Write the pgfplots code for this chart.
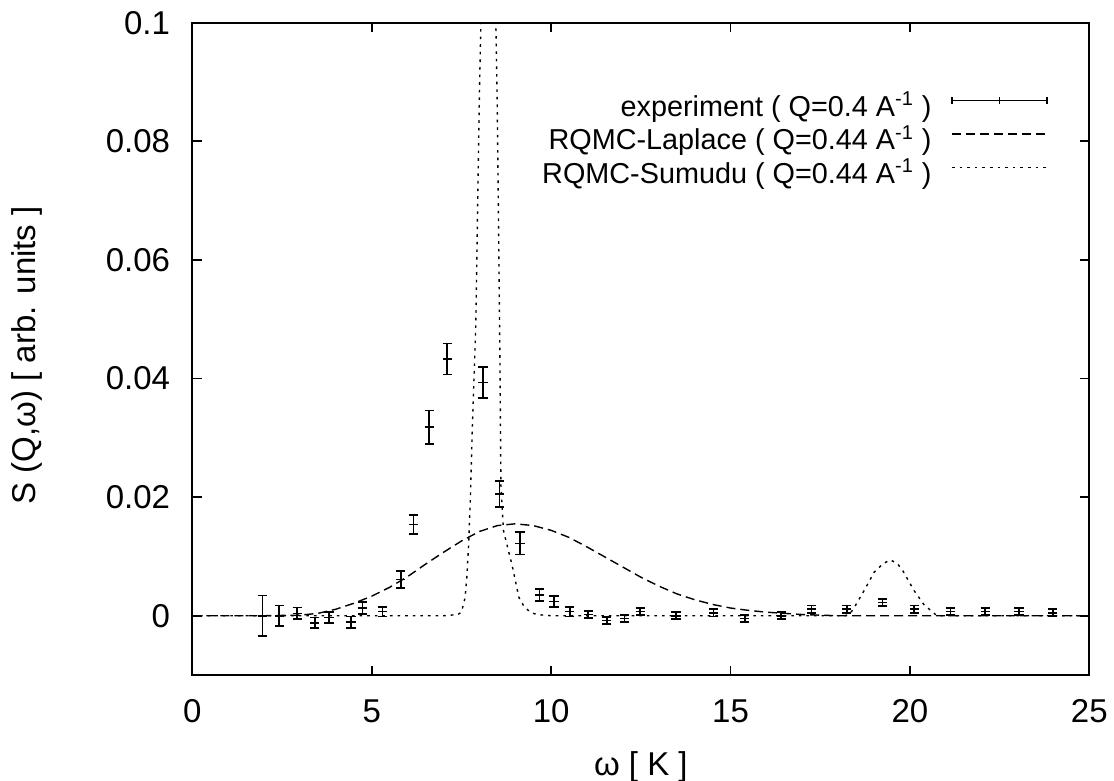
\documentclass[border=0pt]{standalone}
\usepackage{fontspec}
\setmainfont{Liberation Sans}
\usepackage{pgfplots}
\pgfplotsset{compat=1.18}

% experiment, Q = 0.4 A^-1
\pgfplotstableread{
x      y        e
1.95   0.0000   0.0034
2.42   0.0000   0.0017
2.92   0.0004   0.0010
3.41  -0.0012   0.0009
3.81  -0.0003   0.0009
4.42  -0.0011   0.0010
4.74   0.0013   0.0010
5.30   0.0007   0.0008
5.81   0.0061   0.0014
6.16   0.0154   0.0016
6.60   0.0318   0.0028
7.10   0.0433   0.0026
8.10   0.0393   0.0026
8.56   0.0205   0.0022
9.13   0.0122   0.0019
9.67   0.0035   0.0010
10.08  0.0024   0.0009
10.52  0.0007   0.0008
11.03  0.0002   0.0006
11.55 -0.0008   0.0006
12.05 -0.0005   0.0006
12.48  0.0007   0.0006
13.48  0.0000   0.0006
14.53  0.0005   0.0006
15.40 -0.0005   0.0006
16.41  0.0000   0.0006
17.26  0.0011   0.0006
18.24  0.0011   0.0006
19.24  0.0022   0.0006
20.12  0.0011   0.0006
21.13  0.0007   0.0006
22.10  0.0007   0.0006
23.04  0.0007   0.0006
23.98  0.0005   0.0006
}\expdata

\pgfplotstableread{
x     y
0     0
2     0
3     0.0001
3.5   0.0004
4     0.0011
4.5   0.0021
5     0.0033
5.5   0.0048
6     0.0066
6.5   0.0087
7     0.0107
7.5   0.0126
8     0.0142
8.5   0.0152
9     0.0155
9.5   0.0152
10    0.0144
10.5  0.0132
11    0.0116
11.5  0.0099
12    0.0082
12.5  0.0065
13    0.0050
13.5  0.0037
14    0.0027
14.5  0.0019
15    0.0013
15.5  0.0009
16    0.0006
16.5  0.0004
17    0.0002
17.5  0.0001
18    0
25    0
}\laplace

\pgfplotstableread{
x      y
0      0
7.0    0
7.4    0.0002
7.5    0.0006
7.6    0.0030
7.65   0.0065
7.7    0.0120
7.75   0.0200
7.8    0.0310
7.9    0.0490
8.0    0.0880
8.05   0.1020
8.25   0.1500
8.45   0.1030
8.5    0.0850
8.57   0.0450
8.6    0.0220
8.67   0.0144
8.8    0.0112
8.9    0.0088
9.0    0.0060
9.1    0.0031
9.25   0.0015
9.42   0.0006
9.6    0.0002
10     0
18.2   0
18.35  0.0005
18.45  0.0014
18.72  0.0042
19.0   0.0073
19.25  0.0088
19.46  0.0094
19.65  0.0088
19.8   0.0076
20.12  0.0042
20.4   0.0018
20.6   0.0008
20.75  0
25     0
}\sumudu

\begin{document}
\fontsize{14.4}{17}\selectfont
\begin{tikzpicture}
\begin{axis}[
  scale only axis, width=448.5pt, height=326.2pt,
  xmin=0, xmax=25, ymin=-0.01, ymax=0.1,
  xtick={0,5,10,15,20,25},
  ytick={0,0.02,0.04,0.06,0.08,0.1},
  scaled y ticks=false,
  /pgf/number format/assume math mode=true,
  tick label style={font=\fontsize{16.5}{19}\selectfont},
  label style={font=\fontsize{16.5}{19}\selectfont},
  yticklabel style={/pgf/number format/fixed, anchor=east, inner sep=0pt, xshift=-11pt},
  xticklabel style={anchor=base, inner sep=0pt, yshift=-23.5pt},
  tick align=inside, major tick length=4.7pt,
  tick style={line width=0.8pt, black},
  axis line style={line width=1pt},
  xlabel={ω [ K ]},
  ylabel={S (Q,ω) [ arb. units ]},
  xlabel style={at={(axis description cs:0.5,-0.1533)}, anchor=base},
  ylabel style={at={(axis description cs:-0.184,0.49)}, anchor=center},
  legend cell align=right, legend plot pos=right,
  legend style={draw=none, fill=none, at={(axis description cs:1,1)}, anchor=north east,
    xshift=-20.6pt, yshift=-32.5pt, row sep=-1.5pt, inner sep=0pt},
]
\addplot[black, line width=0.8pt, only marks, mark=+, mark size=2.3pt, forget plot,
  error bars/.cd, y dir=both, y explicit,
  error bar style={line width=0.8pt, black},
  error mark options={rotate=90, mark size=2.3pt, line width=0.8pt, black}]
  table[x=x, y=y, y error=e] {\expdata};
\addplot[black, line width=0.7pt, dash pattern=on 4.5pt off 2.5pt, forget plot] table[x=x, y=y] {\laplace};
\addplot[black, line width=0.7pt, dash pattern=on 1.3pt off 2.5pt, forget plot] table[x=x, y=y] {\sumudu};

\addlegendimage{legend image code/.code={\path (0pt,0pt);
  \draw[black, line width=0.8pt] (8pt,3pt) -- (55.5pt,3pt);
  \draw[black, line width=0.8pt] (8pt,1.2pt) -- (8pt,4.8pt);
  \draw[black, line width=0.8pt] (31.75pt,1.2pt) -- (31.75pt,4.8pt);
  \draw[black, line width=0.8pt] (55.5pt,1.2pt) -- (55.5pt,4.8pt);}}
\addlegendentry{experiment ( Q=0.4 A\textsuperscript{-1} )}
\addlegendimage{legend image code/.code={\path (0pt,0pt);
  \draw[black, line width=0.7pt, dash pattern=on 4.5pt off 2.5pt] (8pt,3pt) -- (55.5pt,3pt);}}
\addlegendentry{RQMC-Laplace ( Q=0.44 A\textsuperscript{-1} )}
\addlegendimage{legend image code/.code={\path (0pt,0pt);
  \draw[black, line width=0.7pt, dash pattern=on 1.3pt off 2.5pt] (8pt,3pt) -- (55.5pt,3pt);}}
\addlegendentry{RQMC-Sumudu ( Q=0.44 A\textsuperscript{-1} )}
\end{axis}
\pgfresetboundingbox
\path[use as bounding box] ([shift={(-96.2pt,-52.5pt)}]current axis.south west)
  rectangle ([shift={(12.35pt,11.35pt)}]current axis.north east);
\end{tikzpicture}
\end{document}
